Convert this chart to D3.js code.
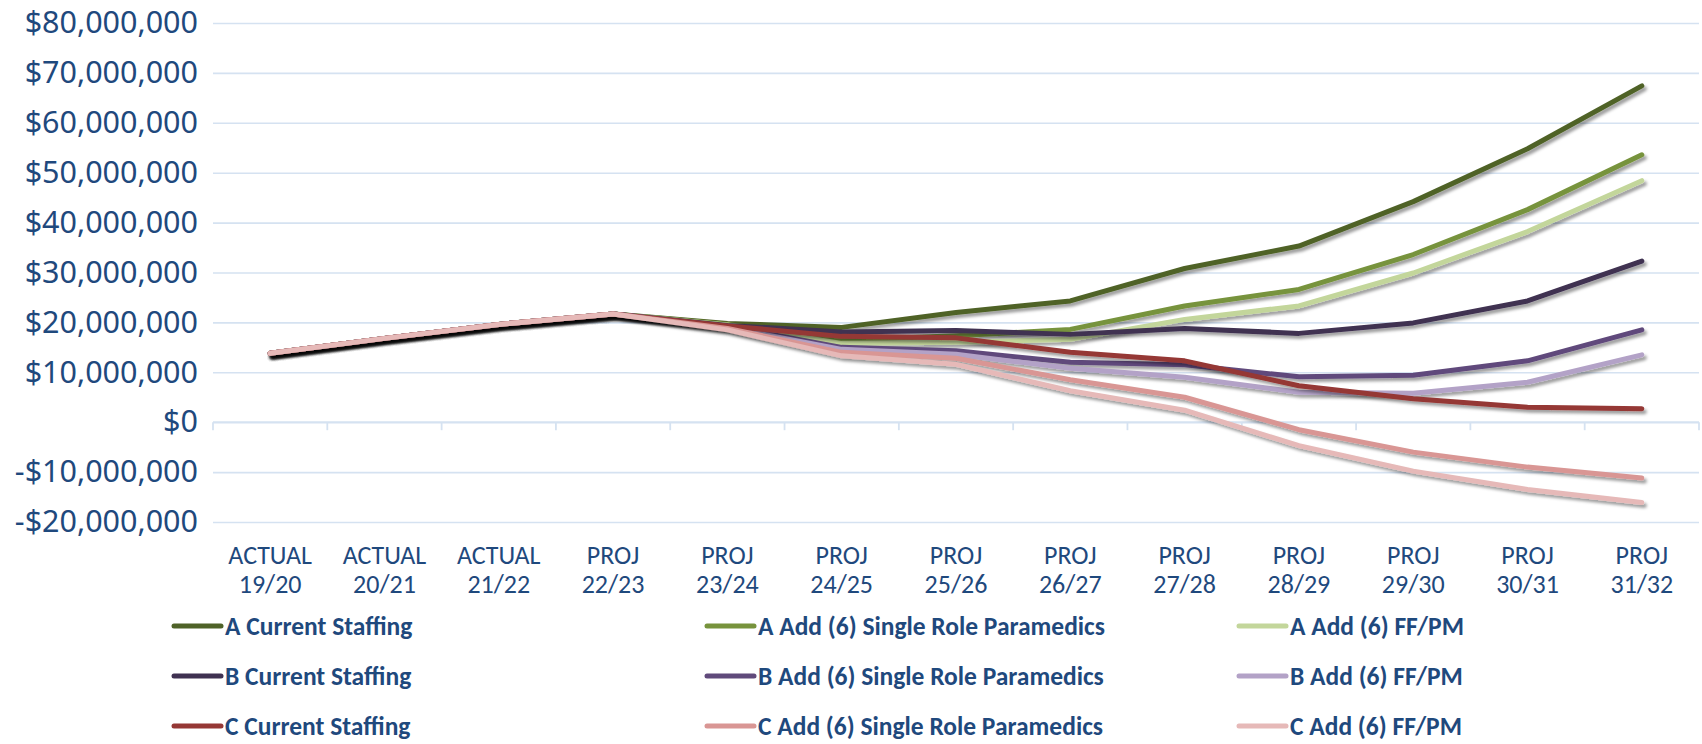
<!DOCTYPE html>
<html>
<head>
<meta charset="utf-8">
<script src="https://cdn.jsdelivr.net/npm/d3@7/dist/d3.min.js"></script>
<style>
  html, body { margin: 0; padding: 0; background: #fff; }
  svg { display: block; }
  .lbl { font-family: Carlito, Calibri, "Liberation Sans Narrow", "DejaVu Sans Condensed", "Open Sans", sans-serif; fill: #1f497d; }
</style>
</head>
<body>
<svg id="chart" width="1702" height="744"></svg>
<script>
// Fiscal years along the x axis (two-line labels)
const categories = ["ACTUAL 19/20", "ACTUAL 20/21", "ACTUAL 21/22", "PROJ 22/23", "PROJ 23/24", "PROJ 24/25",
  "PROJ 25/26", "PROJ 26/27", "PROJ 27/28", "PROJ 28/29", "PROJ 29/30", "PROJ 30/31", "PROJ 31/32"];

// Fund balance by scenario, in millions of dollars
const aCurrent = [13.8, 16.8, 19.6, 21.7, 19.8, 19.0, 22.0, 24.3, 30.8, 35.3, 44.2, 54.8, 67.4];
const aSingle  = [13.8, 16.8, 19.6, 21.7, 19.6, 16.4, 17.3, 18.6, 23.3, 26.6, 33.6, 42.6, 53.6];
const aFfpm    = [13.8, 16.8, 19.6, 21.7, 19.5, 15.8, 16.0, 16.6, 20.6, 23.3, 29.9, 38.2, 48.4];
const bCurrent = [13.8, 16.8, 19.6, 21.7, 19.4, 18.1, 18.4, 17.6, 18.8, 17.8, 19.9, 24.3, 32.3];
const bSingle  = [13.8, 16.8, 19.6, 21.7, 19.2, 15.0, 14.3, 12.0, 11.5, 9.1, 9.4, 12.3, 18.5];
const bFfpm    = [13.8, 16.8, 19.6, 21.7, 19.0, 14.6, 13.6, 10.8, 9.0, 6.0, 5.8, 8.0, 13.5];
const cCurrent = [13.8, 16.8, 19.6, 21.7, 19.3, 17.2, 16.9, 14.0, 12.3, 7.3, 4.7, 3.0, 2.7];
const cSingle  = [13.8, 16.8, 19.6, 21.7, 18.8, 14.0, 12.8, 8.5, 5.0, -1.5, -6.0, -9.0, -11.2];
const cFfpm    = [13.8, 16.8, 19.6, 21.7, 18.5, 13.3, 11.6, 6.3, 2.4, -4.7, -9.8, -13.5, -16.1];

const seriesNames = ["A Current Staffing", "A Add (6) Single Role Paramedics", "A Add (6) FF/PM",
  "B Current Staffing", "B Add (6) Single Role Paramedics", "B Add (6) FF/PM",
  "C Current Staffing", "C Add (6) Single Role Paramedics", "C Add (6) FF/PM"];
const seriesValues = [aCurrent, aSingle, aFfpm, bCurrent, bSingle, bFfpm, cCurrent, cSingle, cFfpm];
const seriesColors = ["#4f6228", "#77933c", "#c3d69b", "#3f3151", "#604a7b", "#b3a2c7", "#953735", "#d99694", "#e6b9b8"];

const yTicks = [-20e6, -10e6, 0, 10e6, 20e6, 30e6, 40e6, 50e6, 60e6, 70e6, 80e6];

const svg = d3.select("#chart");
const plot = { left: 213, right: 1699, top: 23, bottom: 522 };

const x = d3.scaleBand().domain(categories).range([plot.left, plot.right]).paddingInner(0).paddingOuter(0);
const y = d3.scaleLinear().domain([-20e6, 80e6]).range([plot.bottom, plot.top]);

const money = v => (v < 0 ? "-$" : "$") + d3.format(",")(Math.abs(v));

// drop shadow behind each line
const defs = svg.append("defs");
const f = defs.append("filter").attr("id", "shadow").attr("x", "-5%").attr("y", "-20%").attr("width", "110%").attr("height", "140%");
f.append("feDropShadow").attr("dx", 2.5).attr("dy", 3).attr("stdDeviation", 1.6)
  .attr("flood-color", "#000").attr("flood-opacity", 0.38);

// gridlines + y labels
const yAxis = svg.append("g").attr("transform", `translate(${plot.left},0)`)
  .call(d3.axisLeft(y).tickValues(yTicks).tickFormat(money).tickSize(-(plot.right - plot.left)).tickPadding(15));
yAxis.select(".domain").remove();
yAxis.selectAll(".tick line").attr("stroke", "#d5e2f1").attr("stroke-width", 1.6);
yAxis.selectAll(".tick text").attr("class", "lbl").attr("fill", "#1f497d")
  .style("font-family", "'Noto Sans', 'Open Sans', sans-serif").style("font-size", "30.5px");

// category axis along zero with boundary ticks
const xAxisG = svg.append("g");
xAxisG.append("line").attr("x1", plot.left).attr("x2", plot.right).attr("y1", y(0)).attr("y2", y(0))
  .attr("stroke", "#d5e2f1").attr("stroke-width", 1.8);
const bounds = categories.map(c => x(c)).concat([x(categories[categories.length - 1]) + x.bandwidth()]);
xAxisG.selectAll("line.tk").data(bounds).join("line").attr("class", "tk")
  .attr("x1", d => d).attr("x2", d => d).attr("y1", y(0)).attr("y2", y(0) + 8)
  .attr("stroke", "#d5e2f1").attr("stroke-width", 1.8);

// x labels below the plot
const xl = svg.append("g").selectAll("text").data(categories).join("text")
  .attr("class", "lbl").attr("text-anchor", "middle").style("font-size", "26px")
  .attr("x", d => x(d) + x.bandwidth() / 2);
xl.append("tspan").attr("x", d => x(d) + x.bandwidth() / 2).attr("y", 564).text(d => d.split(" ")[0]);
xl.append("tspan").attr("x", d => x(d) + x.bandwidth() / 2).attr("y", 593).text(d => d.split(" ")[1]);

// series lines
const line = d3.line().x((d, i) => x(categories[i]) + x.bandwidth() / 2).y(d => y(d * 1e6));
svg.append("g").selectAll("path").data(seriesValues).join("path")
  .attr("d", d => line(d)).attr("fill", "none")
  .attr("stroke", (d, i) => seriesColors[i]).attr("stroke-width", 5)
  .attr("stroke-linejoin", "round").attr("stroke-linecap", "round")
  .attr("filter", "url(#shadow)");

// legend: 3 columns x 3 rows
const legX = [174, 707, 1239];
const legY = [626, 676, 726];
const leg = svg.append("g").selectAll("g").data(seriesNames).join("g")
  .attr("transform", (d, i) => `translate(${legX[i % 3]},${legY[Math.floor(i / 3)]})`);
leg.append("line").attr("x1", 0).attr("x2", 47).attr("y1", 0).attr("y2", 0)
  .attr("stroke", (d, i) => seriesColors[i]).attr("stroke-width", 5).attr("stroke-linecap", "round");
leg.append("text").attr("class", "lbl").attr("x", 51).attr("y", 0).attr("dy", "0.35em")
  .style("font-size", "25.5px").style("font-weight", "bold").text(d => d);
</script>
</body>
</html>
